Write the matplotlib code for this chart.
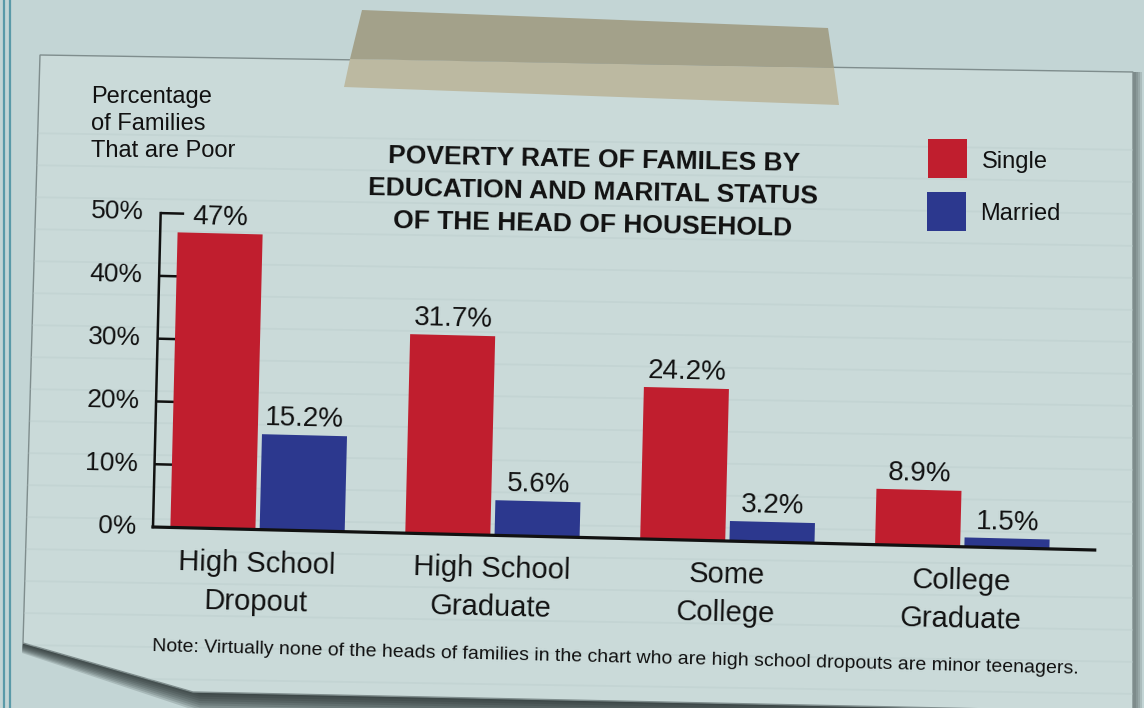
import matplotlib
matplotlib.use("Agg")
import matplotlib.pyplot as plt
from matplotlib.patches import Polygon, Rectangle
from matplotlib.transforms import Affine2D
import numpy as np

plt.rcParams["font.family"] = "Liberation Sans"

# data
categories = ["High School\nDropout", "High School\nGraduate", "Some\nCollege", "College\nGraduate"]
single = [47.0, 31.7, 24.2, 8.9]
married = [15.2, 5.6, 3.2, 1.5]
single_labels = ["47%", "31.7%", "24.2%", "8.9%"]
married_labels = ["15.2%", "5.6%", "3.2%", "1.5%"]
yticks = [0, 10, 20, 30, 40, 50]
ytick_labels = ["0%", "10%", "20%", "30%", "40%", "50%"]

red = '#c01e2e'
blue = '#2c388e'
bgcol = '#c3d5d5'
paper = '#cadad9'
ink = '#111111'

W, H = 1144, 708
fig = plt.figure(figsize=(W/100., H/100.), dpi=100, facecolor=bgcol)

### background: paper note, tape, border
bg = fig.add_axes([0, 0, 1, 1])
bg.set_xlim(0, W)
bg.set_ylim(H, 0)
bg.set_axis_off()

bg.plot([4, 4], [0, H], color='#5a9aa8', lw=1.6)
bg.plot([10, 10], [0, H], color='#5a9aa8', lw=1.6)

# shadow under the folded corner and bottom edge
for k in range(9):
    d = 20 - k*2.2
    bg.add_patch(Polygon([(23, 643), (193, 692), (1133, 712), (1133, 712+d),
                          (200, 692+d), (22, 643+d*0.5)],
                         closed=True, color='#1f2828', alpha=0.16, lw=0, zorder=0.2))
for k in range(4):
    bg.add_patch(Rectangle((1133, 72), 9 - 2*k, 650, color='#4f5a5a', alpha=0.2, lw=0, zorder=0.2))

paper_poly = Polygon([(40, 55), (1133, 72), (1133, 712), (193, 692), (23, 643)],
                     closed=True, facecolor=paper, edgecolor='#7f8d8d', lw=1.0, zorder=0.3)
bg.add_patch(paper_poly)

for yy in np.arange(133, 700, 32):
    ln, = bg.plot([20, 1140], [yy, yy + 17], color='#b7c9c9', lw=1.3, alpha=0.35, zorder=0.4)
    ln.set_clip_path(paper_poly)

# tape
bg.add_patch(Polygon([(362, 10), (828, 28), (834, 68), (350, 59)], closed=True,
                     color='#a3a18a', lw=0))
bg.add_patch(Polygon([(350, 59), (834, 68), (839, 105), (344, 87)], closed=True,
                     color='#bcb9a1', lw=0))

### chart
x0, x1 = -0.445, 3.564
ax = fig.add_axes([153./W, (H-527.)/H, 942./W, 314./H])
ax.set_xlim(x0, x1)
ax.set_ylim(0, 50)
ax.set_axis_off()

x = np.arange(len(categories))
off = 0.19
bw = 0.362
ax.bar(x-off, single, bw, color=red, zorder=3)
ax.bar(x+off, married, bw, color=blue, zorder=3)

ax.plot([x0, x0], [0, 50], color=ink, lw=1.8, solid_capstyle='projecting', zorder=2)
ax.hlines(yticks[1:], x0, x0+0.1, color=ink, lw=1.8, zorder=2)
ax.plot([x0, x1], [0, 0], color=ink, lw=2.3, zorder=4)

for v, lab in zip(yticks, ytick_labels):
    ax.text(x0-0.072, v, lab, ha='right', va='center', fontsize=19, color=ink)
for xi, v, lab in zip(x-off, single, single_labels):
    ax.text(xi, v+0.5, lab, ha='center', va='bottom', fontsize=20, color=ink)
for xi, v, lab in zip(x+off, married, married_labels):
    ax.text(xi, v+0.5, lab, ha='center', va='bottom', fontsize=20, color=ink)
for xi, cat in zip(x, categories):
    ax.text(xi, -3.2, cat, ha='center', va='top', fontsize=21, color=ink, linespacing=1.47)

# tilt the whole chart like the photographed note
rot = Affine2D().rotate_deg_around(153, H-527, -1.4)
for art in ax.patches + ax.lines + ax.collections + ax.texts:
    art.set_transform(ax.transData + rot)
    art.set_clip_on(False)
for t in ax.texts:
    t.set_rotation(-1.4)
    t.set_rotation_mode('anchor')

### texts on the note
bg.text(91, 86, "Percentage\nof Families\nThat are Poor", ha='left', va='top',
        fontsize=17, linespacing=1.29, color=ink)
bg.text(593, 192, "POVERTY RATE OF FAMILES BY\nEDUCATION AND MARITAL STATUS\nOF THE HEAD OF HOUSEHOLD",
        ha='center', va='center', multialignment='center', fontsize=19, fontweight='bold',
        linespacing=1.44, rotation=-1.1, rotation_mode='anchor', color=ink)

bg.add_patch(Rectangle((928, 139), 39, 39, color=red, lw=0))
bg.add_patch(Rectangle((927, 192), 39, 39, color=blue, lw=0))
bg.text(982, 162, "Single", ha='left', va='center', fontsize=17, color=ink)
bg.text(980, 214, "Married", ha='left', va='center', fontsize=17, color=ink)

bg.text(152, 651, "Note: Virtually none of the heads of families in the chart who are high school dropouts are minor teenagers.",
        ha='left', va='baseline', fontsize=14, rotation=-1.4, rotation_mode='anchor', color=ink)

fig.savefig("out.png", dpi=100, facecolor=bgcol)
